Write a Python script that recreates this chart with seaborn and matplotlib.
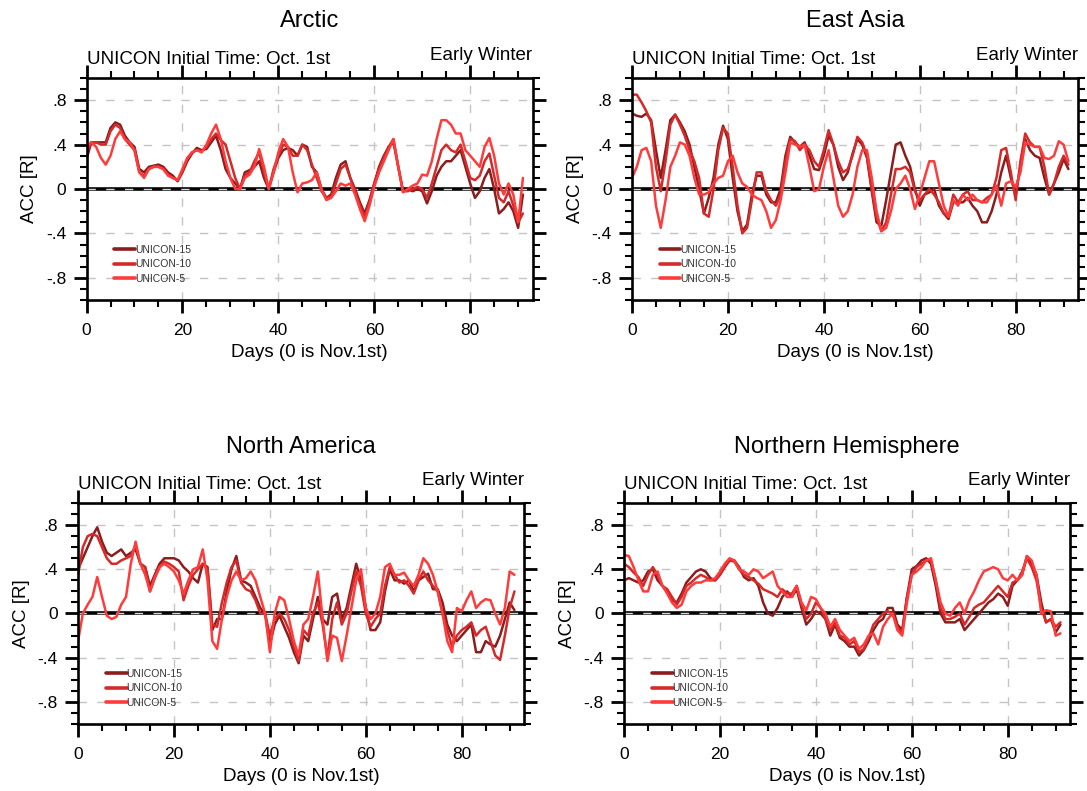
import numpy as np
import pandas as pd
import seaborn as sns
import matplotlib
matplotlib.use('Agg')
import matplotlib.pyplot as plt
from matplotlib.ticker import MultipleLocator, FixedLocator

# =====================================================================
# DATA (ACC per lead day)
# =====================================================================
days = list(range(92))
members = ['UNICON-15', 'UNICON-10', 'UNICON-5']
member_colors = {'UNICON-15': '#8c1d1d', 'UNICON-10': '#d42a2a', 'UNICON-5': '#ff3b3b'}
regions = ['Arctic', 'East Asia', 'North America', 'Northern Hemisphere']
xtick_values = [0, 20, 40, 60, 80]
ytick_values = [-0.8, -0.4, 0, 0.4, 0.8]
ytick_labels = ['-.8', '-.4', '0', '.4', '.8']

arctic_15 = [.27, .42, .42, .42, .42, .55, .60, .58, .48, .42,
             .38, .18, .15, .20, .21, .22, .20, .15, .12, .07,
             .15, .25, .32, .37, .35, .36, .42, .48, .35, .18,
             .10, .05, .00, .15, .17, .20, .25, .10, .00, .15,
             .28, .35, .37, .35, .30, .40, .38, .20, .15, .00,
             -.08, -.05, .10, .22, .25, .10, .00, -.12, -.22, -.10,
             .05, .20, .30, .38, .42, .20, -.02, .00, -.02, .00,
             -.02, -.13, -.02, .12, .20, .25, .25, .30, .35, .20,
             .05, -.08, -.02, .10, .18, .00, -.22, -.18, -.12, -.20,
             -.35, -.05]
arctic_10 = [.33, .42, .42, .40, .40, .52, .58, .55, .45, .40,
             .35, .15, .12, .18, .20, .20, .18, .13, .10, .08,
             .16, .27, .33, .35, .34, .38, .45, .50, .44, .40,
             .25, .10, .00, .12, .15, .25, .33, .15, .00, .18,
             .30, .40, .38, .30, .30, .40, .35, .22, .10, -.02,
             -.08, -.07, .05, .18, .22, .10, -.02, -.15, -.25, -.12,
             .05, .18, .28, .38, .45, .20, -.02, -.02, .00, .02,
             .00, -.08, .05, .20, .35, .40, .35, .33, .40, .25,
             .10, .08, .12, .25, .32, .12, -.08, -.12, -.02, -.15,
             -.30, -.22]
arctic_5 = [.38, .42, .38, .28, .22, .30, .45, .52, .45, .42,
            .35, .15, .10, .18, .20, .20, .18, .12, .10, .08,
            .18, .28, .33, .35, .33, .40, .50, .58, .45, .25,
            .10, .00, .00, .10, .13, .20, .36, .20, .00, .15,
            .33, .45, .38, .15, -.03, .05, .06, .08, .15, .00,
            -.10, -.08, -.02, .05, .03, .05, -.05, -.18, -.29, -.15,
            .02, .15, .25, .35, .45, .20, -.03, .00, .03, .05,
            .13, .12, .25, .45, .62, .62, .58, .50, .50, .35,
            .30, .25, .20, .38, .46, .30, .05, -.05, .05, -.05,
            -.30, .10]

eastasia_15 = [.68, .66, .65, .68, .62, .35, .10, .35, .62, .67,
               .60, .52, .40, .20, .00, -.22, -.08, .10, .40, .57,
               .45, .10, -.20, -.38, -.32, -.05, .12, .12, -.05, -.12,
               -.12, .00, .30, .47, .42, .38, .42, .30, .18, .17,
               .30, .48, .40, .20, .08, .15, .32, .45, .40, .28,
               -.02, -.30, -.33, -.10, .15, .40, .42, .30, .20, .00,
               -.15, -.05, -.03, .00, -.15, -.22, -.27, -.12, -.12, -.12,
               -.08, -.15, -.20, -.30, -.30, -.20, -.05, .15, .30, .10,
               -.05, .20, .45, .35, .30, .28, .10, -.05, .05, .15,
               .27, .18]
eastasia_10 = [.85, .85, .78, .70, .60, .20, -.02, .25, .58, .67,
               .58, .48, .35, .25, .10, -.22, -.25, .00, .35, .55,
               .50, .20, -.15, -.40, -.35, -.10, .15, .15, -.02, -.10,
               -.15, -.05, .25, .45, .43, .35, .40, .35, .25, .20,
               .35, .53, .40, .25, .15, .18, .30, .47, .42, .30,
               .00, -.25, -.38, -.30, -.05, .18, .18, .20, .15, -.02,
               -.10, -.05, .00, -.05, -.12, -.22, -.25, -.05, -.12, -.05,
               -.02, -.10, -.10, -.12, -.08, -.05, .10, .35, .37, .15,
               -.10, .25, .50, .42, .38, .38, .20, -.05, .05, .20,
               .30, .22]
eastasia_5 = [.10, .20, .35, .37, .25, -.15, -.35, -.10, .20, .30,
              .42, .40, .30, .10, -.05, -.05, -.03, .05, .10, .12,
              .25, .30, .15, .05, .02, -.05, -.08, -.10, -.20, -.35,
              -.28, -.10, .15, .42, .40, .38, .40, .20, -.02, .00,
              .20, .35, .10, -.15, -.25, -.20, -.05, .20, .35, .35,
              .10, -.20, -.38, -.35, -.20, .00, .05, .12, .00, -.18,
              -.05, .10, .25, .25, .05, -.15, -.25, -.10, -.15, -.05,
              -.10, -.05, -.10, -.12, -.12, -.05, .03, -.15, .05, .07,
              .02, .15, .42, .40, .38, .38, .28, .27, .30, .43,
              .40, .25]

namerica_15 = [.40, .50, .60, .70, .78, .65, .55, .52, .55, .58,
               .52, .55, .58, .45, .42, .25, .35, .45, .50, .50,
               .50, .48, .42, .38, .32, .28, .45, .42, -.15, -.05,
               -.05, .20, .40, .52, .30, .28, .25, .15, .05, .00,
               -.28, -.10, -.02, -.12, -.22, -.35, -.45, -.20, -.25, -.05,
               .15, -.05, -.10, .15, .18, -.05, .05, .25, .45, .30,
               .05, -.15, -.15, -.08, .20, .40, .30, .30, .27, .30,
               .20, .30, .33, .36, .22, .22, .10, -.10, -.20, -.25,
               -.20, -.15, -.10, -.35, -.35, -.25, -.28, -.30, -.20, -.05,
               .10, .03]
namerica_10 = [.35, .60, .70, .72, .70, .60, .50, .45, .45, .48,
               .50, .52, .62, .45, .42, .20, .32, .42, .47, .45,
               .42, .38, .12, .25, .35, .40, .45, .40, -.10, -.12,
               .10, .28, .42, .48, .28, .22, .20, .12, .00, .00,
               -.20, -.05, .00, -.05, -.15, -.30, -.43, -.15, -.20, .00,
               .10, -.10, -.40, -.05, .10, -.10, .00, .20, .38, .25,
               .00, -.12, -.05, .00, .25, .42, .35, .28, .30, .25,
               .18, .30, .38, .30, .25, .20, .00, -.15, -.30, -.20,
               -.15, -.12, -.08, -.20, -.15, -.12, -.25, -.38, -.42, -.20,
               .05, .20]
namerica_5 = [-.25, .00, .08, .15, .33, .15, -.02, -.05, -.03, .08,
              .15, .45, .65, .45, .35, .20, .33, .42, .45, .42,
              .38, .30, .18, .30, .40, .42, .58, .30, -.25, -.32,
              -.05, .15, .30, .38, .30, .32, .38, .30, .15, .00,
              -.35, .00, .15, .12, -.05, -.25, -.38, -.10, -.05, .15,
              .38, -.05, -.43, -.20, -.22, -.43, -.20, .05, .30, .40,
              .05, -.05, .00, .15, .42, .45, .35, .35, .37, .30,
              .25, .35, .50, .45, .35, .20, .00, -.25, -.35, .05,
              .02, .12, .20, .05, .10, .13, .12, .00, -.10, .05,
              .38, .35]

nhemis_15 = [.30, .32, .30, .28, .30, .38, .40, .30, .25, .20,
             .12, .10, .18, .28, .33, .38, .40, .38, .32, .30,
             .35, .42, .48, .48, .42, .33, .30, .32, .25, .10,
             .00, -.02, .05, .15, .20, .15, .22, .05, -.10, -.05,
             .02, .00, -.05, -.20, -.10, -.22, -.25, -.30, -.30, -.38,
             -.33, -.25, -.15, -.08, -.05, .05, .05, -.10, -.15, .15,
             .40, .43, .48, .50, .45, .25, .00, -.08, -.08, -.08,
             -.05, -.15, -.10, -.05, .00, .05, .10, .13, .18, .15,
             .07, .25, .30, .35, .52, .45, .35, .10, -.08, -.05,
             -.17, -.10]
nhemis_10 = [.45, .42, .37, .33, .25, .35, .42, .35, .25, .22,
             .15, .08, .15, .25, .28, .32, .35, .33, .30, .30,
             .35, .43, .48, .47, .40, .35, .33, .30, .27, .22,
             .20, .18, .15, .22, .18, .18, .25, .08, -.05, .00,
             .10, .05, -.05, -.15, -.08, -.20, -.22, -.28, -.25, -.35,
             -.32, -.22, -.10, -.05, .00, .02, .00, -.12, -.18, .15,
             .35, .42, .45, .48, .48, .30, .05, -.05, -.05, -.03,
             .00, -.10, -.03, .05, .08, .10, .15, .20, .25, .20,
             .15, .28, .30, .38, .50, .42, .30, .05, -.08, -.05,
             -.12, -.08]
nhemis_5 = [.53, .52, .42, .30, .20, .20, .35, .38, .25, .18,
            .10, .05, .08, .20, .25, .28, .28, .30, .30, .32,
            .38, .45, .50, .48, .40, .38, .35, .40, .38, .32,
            .35, .38, .25, .20, .15, .15, .25, .10, .03, .15,
            .13, .05, .00, -.12, -.05, -.15, -.20, -.25, -.22, -.32,
            -.28, -.20, -.18, -.28, -.12, -.05, .00, -.15, -.20, .10,
            .35, .38, .42, .48, .50, .30, .10, .00, -.02, .05,
            .10, .00, .12, .20, .30, .38, .40, .42, .40, .32,
            .30, .35, .30, .35, .52, .48, .35, .00, .03, .02,
            -.20, -.18]

region_series = {
    'Arctic': [arctic_15, arctic_10, arctic_5],
    'East Asia': [eastasia_15, eastasia_10, eastasia_5],
    'North America': [namerica_15, namerica_10, namerica_5],
    'Northern Hemisphere': [nhemis_15, nhemis_10, nhemis_5],
}

# =====================================================================
# STYLE
# =====================================================================
sns.set_style('white')
plt.rcParams['font.family'] = ['Liberation Sans', 'DejaVu Sans']
plt.rcParams['text.color'] = 'black'
plt.rcParams['axes.labelcolor'] = 'black'
plt.rcParams['xtick.color'] = 'black'
plt.rcParams['ytick.color'] = 'black'

fig = plt.figure(figsize=(10.87, 7.91), dpi=100)
axes_pos = {
    'Arctic': [0.0796, 0.6207, 0.4103, 0.2807],
    'East Asia': [0.5814, 0.6207, 0.4103, 0.2807],
    'North America': [0.0718, 0.0847, 0.4103, 0.2794],
    'Northern Hemisphere': [0.5741, 0.0847, 0.4103, 0.2794],
}

for region in regions:
    ax = fig.add_axes(axes_pos[region])
    series = region_series[region]
    df = pd.DataFrame({
        'day': days * len(members),
        'acc': np.concatenate(series),
        'member': np.repeat(members, len(days)),
    })

    # gridlines + thick zero line underneath the curves
    ax.set_axisbelow(True)
    ax.grid(True, which='major', color='#c4c4c4', lw=1, linestyle=(0, (6, 7.5)))
    ax.axhline(0, color='black', lw=2.6, zorder=1.5)
    ax.axhline(0, color='#d8d8d8', lw=1, linestyle=(0, (6, 7.5)), zorder=1.6)

    sns.lineplot(data=df, x='day', y='acc', hue='member', hue_order=members,
                 palette=member_colors, lw=1.8, errorbar=None, ax=ax, zorder=2)

    ax.set_xlim(0, 93)
    ax.set_ylim(-1, 1)
    ax.xaxis.set_major_locator(FixedLocator(xtick_values))
    ax.xaxis.set_minor_locator(MultipleLocator(5))
    ax.set_yticks(ytick_values, ytick_labels)
    ax.yaxis.set_minor_locator(MultipleLocator(0.1))
    ax.tick_params(which='both', direction='out', top=True, right=True,
                   bottom=True, left=True,
                   labeltop=False, labelright=False, color='black')
    ax.tick_params(which='major', length=9.5, width=2, labelsize=12.5, pad=5)
    ax.tick_params(which='minor', length=5, width=1.5)
    ax.tick_params(axis='x', which='major', pad=7)
    for sp in ax.spines.values():
        sp.set_linewidth(1.9)
        sp.set_color('black')

    ax.set_xlabel('Days (0 is Nov.1st)', fontsize=13.5, va='center')
    ax.xaxis.set_label_coords(0.5, -0.238)
    ax.set_ylabel('ACC [R]', fontsize=13.5, va='center')
    ax.yaxis.set_label_coords(-0.127, 0.5)

    ax.text(0.5, 1.255, region, transform=ax.transAxes, ha='center', va='center', fontsize=17)
    ax.text(0.0, 1.064, 'UNICON Initial Time: Oct. 1st', transform=ax.transAxes,
            ha='left', va='baseline', fontsize=13.5)
    ax.text(1.0, 1.08, 'Early Winter', transform=ax.transAxes,
            ha='right', va='baseline', fontsize=13.5)

    leg = ax.legend(loc='upper left', bbox_to_anchor=(0.062, 0.25), frameon=False,
                    fontsize=7.5, handlelength=2.0, handletextpad=0.0,
                    labelspacing=0.45, borderpad=0, borderaxespad=0)
    for line in leg.get_lines():
        line.set_linewidth(2.6)
    for t in leg.get_texts():
        t.set_color('#333333')

fig.savefig('out.png', dpi=100)
